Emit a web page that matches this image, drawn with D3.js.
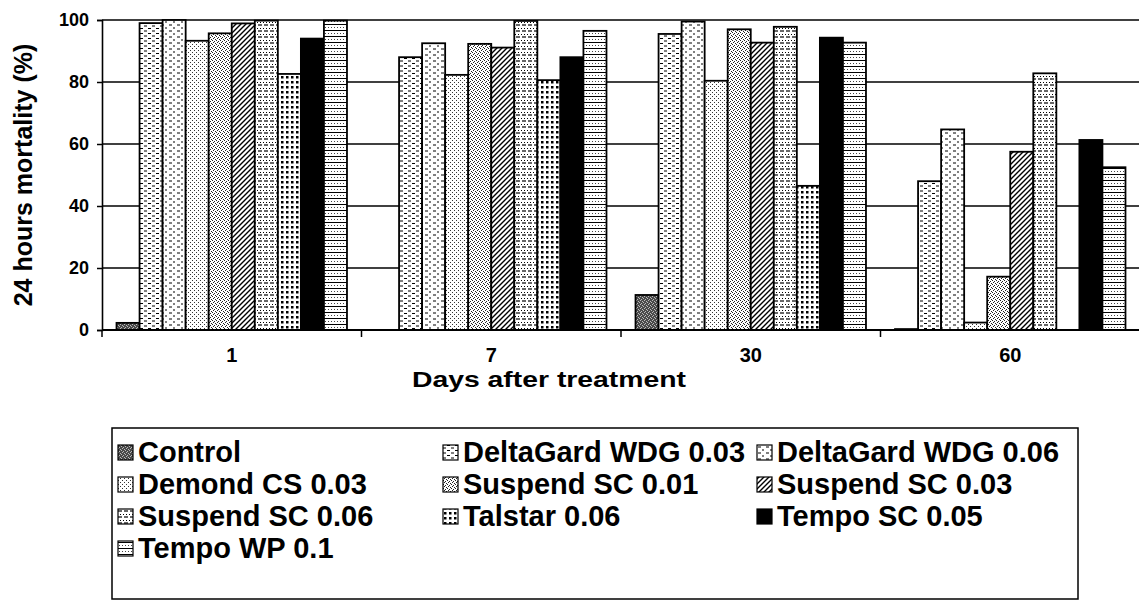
<!DOCTYPE html>
<meta charset="utf-8">
<style>
body { margin: 0; background: #fff; }
text { font-family: "Liberation Sans", Arial, sans-serif; font-weight: bold; fill: #000; }
</style>
<body>
<div id="chart"></div>
<script src="https://d3js.org/d3.v7.min.js"></script>
<script>

// data
var days = ["1", "7", "30", "60"];
var seriesNames = ["Control", "DeltaGard WDG 0.03", "DeltaGard WDG 0.06", "Demond CS 0.03",
  "Suspend SC 0.01", "Suspend SC 0.03", "Suspend SC 0.06", "Talstar 0.06",
  "Tempo SC 0.05", "Tempo WP 0.1"];
var control    = [2.3, 0, 11.3, 0.3];
var deltaGard3 = [99, 88, 95.5, 48];
var deltaGard6 = [100, 92.5, 99.5, 64.7];
var demond     = [93.3, 82.3, 80.4, 2.4];
var suspend1   = [95.7, 92.3, 97, 17.2];
var suspend3   = [98.9, 91.1, 92.7, 57.5];
var suspend6   = [99.8, 99.7, 97.8, 82.8];
var talstar    = [82.6, 80.6, 46.5, 0];
var tempoSC    = [94, 88, 94.3, 61.3];
var tempoWP    = [99.8, 96.5, 92.7, 52.5];
var yTicks = [0, 20, 40, 60, 80, 100];

var seriesValues = [control, deltaGard3, deltaGard6, demond, suspend1,
  suspend3, suspend6, talstar, tempoSC, tempoWP];
var patternIds = ["p-control", "p-dg3", "p-dg6", "p-demond", "p-s1",
  "p-s3", "p-s6", "p-talstar", "p-temposc", "p-tempowp"];

var W = 1139, H = 603;
var margin = {top: 20, right: -1, bottom: 273, left: 102};

var svg = d3.select("#chart").append("svg")
    .attr("width", W)
    .attr("height", H);

var defs = svg.append("defs");

function addPattern(id, w, h, bg, draw) {
  var p = defs.append("pattern")
      .attr("id", id)
      .attr("patternUnits", "userSpaceOnUse")
      .attr("width", w)
      .attr("height", h);
  p.append("rect").attr("width", w).attr("height", h).attr("fill", bg);
  if (draw) draw(p);
}
function dots(p, pts, size, color) {
  pts.forEach(function(d) {
    p.append("rect").attr("x", d[0]).attr("y", d[1])
      .attr("width", size).attr("height", size).attr("fill", color);
  });
}

addPattern("p-control", 4, 4, "#4a4a4a", function(p) {
  dots(p, [[0, 0], [2, 1], [1, 3], [3, 2]], 1, "#bbb");
});
addPattern("p-dg3", 8, 5, "#fff", function(p) {
  p.append("path").attr("d", "M0,1h3M4,3.5h3").attr("stroke", "#000").attr("stroke-width", 1);
});
addPattern("p-dg6", 8, 6, "#fff", function(p) {
  p.append("path").attr("d", "M1,1h3M5,4h2").attr("stroke", "#000").attr("stroke-width", 1);
});
addPattern("p-demond", 4, 4, "#fff", function(p) {
  dots(p, [[0, 0], [2, 2]], 1, "#333");
});
addPattern("p-s1", 4, 4, "#fff", function(p) {
  dots(p, [[0, 0], [2, 1], [1, 2], [3, 3]], 1, "#222");
});
addPattern("p-s3", 5, 5, "#fff", function(p) {
  p.append("path").attr("d", "M0,5L5,0M-1,1L1,-1M4,6L6,4")
    .attr("stroke", "#000").attr("stroke-width", 1.4);
});
addPattern("p-s6", 6, 6, "#fff", function(p) {
  p.append("path").attr("d", "M0,1h4").attr("stroke", "#000").attr("stroke-width", 1.2);
  dots(p, [[2, 4], [5, 4]], 1, "#000");
});
addPattern("p-talstar", 5, 5, "#fff", function(p) {
  dots(p, [[1, 1]], 2.5, "#000");
});
addPattern("p-temposc", 4, 4, "#000");
addPattern("p-tempowp", 6, 6, "#fff", function(p) {
  p.append("path").attr("d", "M0,0.5h6").attr("stroke", "#000").attr("stroke-width", 1);
  dots(p, [[1, 3], [4, 3]], 1, "#444");
});

var plotLeft = margin.left, plotRight = W - margin.right;
var plotTop = margin.top, plotBottom = H - margin.bottom;

var x0 = d3.scaleBand().domain(days).range([plotLeft, plotRight]);
var x1 = d3.scaleBand().domain(seriesNames).range([0, x0.bandwidth()])
    .paddingInner(0).paddingOuter(0.63);
var y = d3.scaleLinear().domain([0, 100]).range([plotBottom, plotTop]);

// gridlines
svg.append("g")
  .selectAll("line")
  .data(yTicks.slice(1))
  .enter().append("line")
    .attr("x1", plotLeft).attr("x2", plotRight)
    .attr("y1", function(d) { return y(d); })
    .attr("y2", function(d) { return y(d); })
    .attr("stroke", "#000").attr("stroke-width", 1.6);

// bars
var groups = svg.append("g")
  .selectAll("g")
  .data(seriesNames)
  .enter().append("g")
    .attr("fill", function(d, i) { return "url(#" + patternIds[i] + ")"; });

groups.selectAll("rect")
  .data(function(d, i) {
    return days.map(function(day, j) { return {day: day, name: d, value: seriesValues[i][j]}; });
  })
  .enter().append("rect")
    .attr("x", function(d) { return x0(d.day) + x1(d.name); })
    .attr("width", x1.bandwidth())
    .attr("y", function(d) { return y(d.value); })
    .attr("height", function(d) { return y(0) - y(d.value); })
    .attr("stroke", "#000")
    .attr("stroke-width", 1.8);

// y axis
var yAxis = svg.append("g")
    .attr("transform", "translate(" + plotLeft + ",0)")
    .call(d3.axisLeft(y).tickValues(yTicks).tickSize(5).tickPadding(8));
yAxis.select(".domain").attr("stroke-width", 1.6);
yAxis.selectAll(".tick line").attr("stroke-width", 1.5);
yAxis.selectAll("text").style("font-size", "18px").style("font-family", "Liberation Sans, Arial, sans-serif").style("font-weight", "bold");

// x axis: ticks between groups
var xAxis = svg.append("g")
    .attr("transform", "translate(0," + plotBottom + ")");
xAxis.append("line")
    .attr("x1", plotLeft).attr("x2", plotRight)
    .attr("stroke", "#000").attr("stroke-width", 1.8);
xAxis.selectAll(".sep")
  .data(days)
  .enter().append("line")
    .attr("class", "sep")
    .attr("x1", function(d) { return x0(d); })
    .attr("x2", function(d) { return x0(d); })
    .attr("y1", 0).attr("y2", 7)
    .attr("stroke", "#000").attr("stroke-width", 1.5);
xAxis.selectAll(".lbl")
  .data(days)
  .enter().append("text")
    .attr("class", "lbl")
    .attr("x", function(d) { return x0(d) + x0.bandwidth() / 2; })
    .attr("y", 32)
    .attr("text-anchor", "middle")
    .style("font-size", "20px")
    .text(function(d) { return d; });

svg.append("text")
    .attr("x", 549)
    .attr("y", 387)
    .attr("text-anchor", "middle")
    .attr("textLength", 274)
    .attr("lengthAdjust", "spacingAndGlyphs")
    .style("font-size", "22px")
    .text("Days after treatment");

svg.append("text")
    .attr("transform", "translate(32," + ((plotTop + plotBottom) / 2) + ") rotate(-90)")
    .attr("text-anchor", "middle")
    .style("font-size", "25px")
    .text("24 hours mortality (%)");

// legend
var legend = svg.append("g");
legend.append("rect")
    .attr("x", 112).attr("y", 428)
    .attr("width", 966).attr("height", 171)
    .attr("fill", "#fff")
    .attr("stroke", "#000").attr("stroke-width", 1.5);

var colX = [118, 443, 757];
var item = legend.selectAll(".item")
  .data(seriesNames)
  .enter().append("g")
    .attr("class", "item")
    .attr("transform", function(d, i) {
      return "translate(" + colX[i % 3] + "," + (452 + Math.floor(i / 3) * 32) + ")";
    });
item.append("rect")
    .attr("x", 0).attr("y", -7)
    .attr("width", 15).attr("height", 15)
    .attr("fill", function(d, i) { return "url(#" + patternIds[i] + ")"; })
    .attr("stroke", "#000").attr("stroke-width", 1.2);
item.append("text")
    .attr("x", 20)
    .attr("y", 10)
    .style("font-size", "29px")
    .text(function(d) { return d; });

</script>
</body>
